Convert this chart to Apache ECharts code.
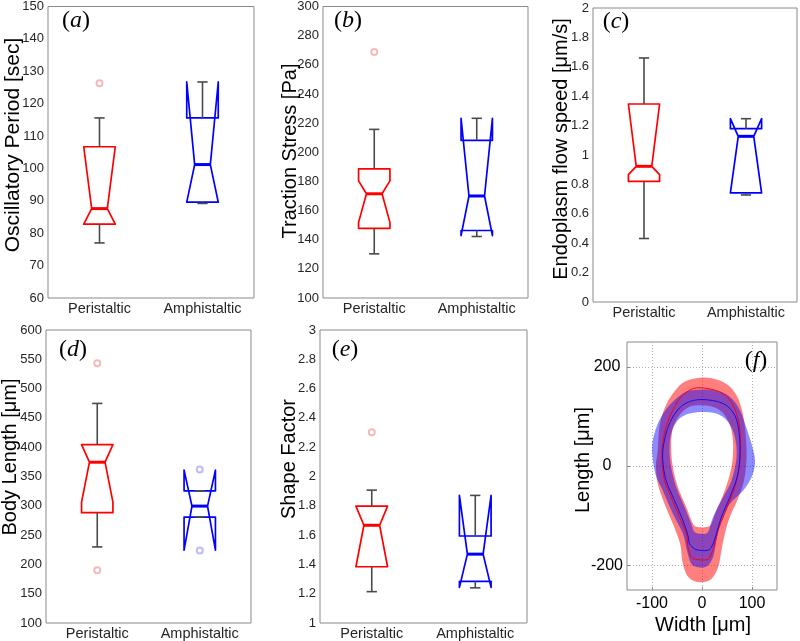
<!DOCTYPE html>
<html><head><meta charset="utf-8">
<script src="https://cdn.jsdelivr.net/npm/echarts@6/dist/echarts.min.js"></script>
<style>html,body{margin:0;padding:0;background:#fff}#chart{width:800px;height:641px}</style>
</head><body><div id="chart"></div>
<script>
// ---------------- DATA ----------------
const categories = ['Peristaltic', 'Amphistaltic'];
// box stats per group: [q1, median, q3, notchLow, notchHigh, whiskerLow, whiskerHigh]
const periodStats = [
  [82.8, 87.6, 106.7, 82.8, 106.7, 77.0, 115.6],
  [89.6, 101.2, 115.6, 89.6, 126.7, 89.2, 126.7]
];
const periodOutliers = [[0, 126.3]];
const stressStats = [
  [147.8, 171.5, 188.6, 151.9, 180.4, 130.3, 215.7],
  [146.3, 170.0, 208.2, 142.8, 223.3, 142.2, 223.3]
];
const stressOutliers = [[0, 268.8]];
const flowStats = [
  [0.821, 0.923, 1.347, 0.866, 1.347, 0.432, 1.66],
  [0.742, 1.127, 1.179, 0.742, 1.247, 0.728, 1.247]
];
const flowOutliers = [];
const lengthStats = [
  [288.2, 374.4, 404.4, 306.3, 404.4, 229.8, 474.7],
  [280.8, 299.5, 325.6, 224.2, 360.8, 280.8, 325.6]
];
const lengthOutliers = [[0, 543.3], [0, 190.1], [1, 361.9], [1, 223.6]];
const shapeStats = [
  [1.384, 1.667, 1.798, 1.384, 1.798, 1.214, 1.907],
  [1.284, 1.470, 1.594, 1.243, 1.871, 1.240, 1.871]
];
const shapeOutliers = [[0, 2.302]];

// panel (f) cell outlines [width, length] in um
const redMean = [[0,157.6],[35.6,149.6],[55.7,132.7],[69,105.7],[75.8,72],[77,31.7],[74.4,-2],[67.7,-35.8],[55.7,-69.4],[42.3,-103],[32.2,-130],[25.5,-157],[18.8,-177],[12,-188.5],[-11.4,-188.5],[-22,-182],[-28,-163.6],[-31.5,-136.8],[-45,-103],[-61.7,-62.6],[-75,-29],[-79.8,11.5],[-78.5,45],[-71.8,78.9],[-58.3,112.5],[-41.6,139.4],[-21.5,154.3]];
const blueMean = [[0,134],[42.3,126],[65.7,102],[74.4,65.3],[75.8,18],[70.4,-22],[55.7,-62.6],[38.9,-103],[28.8,-136.7],[22,-157],[14,-169],[-1.3,-170.4],[-14.8,-167],[-24.8,-157],[-28.2,-140],[-38.2,-109.8],[-55,-69.4],[-71.8,-29],[-78.5,11.5],[-76.5,45],[-66.4,82],[-51.6,109],[-31.5,127]];
const redBandOuter = [[0,178.5],[28.9,174.5],[52.3,163],[69,142.8],[79,115.8],[85.8,78.8],[89.2,31.7],[87.9,-2],[82.5,-35.8],[70.4,-69.4],[55.7,-103],[45.6,-136.7],[38.9,-170.4],[32.2,-204],[18.8,-227.6],[0,-234.3],[-18.1,-231],[-31.5,-217.5],[-39.6,-190.6],[-43.7,-157],[-58.3,-116.5],[-75,-76],[-88.5,-35.8],[-92,0],[-88.5,31.7],[-85.2,78.8],[-75,115.8],[-58.3,146],[-34.9,169.7]];
const redBandInner = [[0,122.6],[25.5,117.9],[45.6,102.4],[59,72],[62.4,31.7],[57.7,-8.8],[45.6,-49.2],[28.8,-89.6],[18.8,-116.5],[8.8,-123.2],[-8,-123.2],[-18.1,-116.5],[-31.5,-82.8],[-48.3,-42.4],[-58.3,-2],[-61.7,38.4],[-58.3,75.5],[-45,102.4],[-24.8,119.3]];
const blueBandOuter = [[0,154.2],[28.9,151.5],[55.7,139.4],[75.8,112.5],[90.5,72],[102.6,31.7],[106,4.8],[99.3,-22.2],[82.5,-49.2],[55.7,-76.1],[38.9,-109.8],[30.2,-143.4],[22.1,-183.8],[8.8,-202.7],[-8,-204],[-21.5,-197.3],[-30.2,-170.4],[-38.2,-136.7],[-58.3,-96.3],[-78.5,-49.2],[-93.2,-15.5],[-99.9,31.7],[-95.2,65.3],[-81.8,99],[-58.3,129.3],[-31.5,149.5]];
const blueBandInner = [[0,109.1],[28.9,105.7],[52.3,88.9],[65.7,58.6],[69.1,18.2],[59,-29],[42.3,-62.6],[22.1,-103],[12.1,-133.3],[-1.3,-136.7],[-14.8,-133.3],[-21.5,-116.5],[-34.9,-82.8],[-51.6,-42.4],[-61.7,-2],[-65,38.4],[-59.7,72],[-45,95.6],[-24.8,105.7]];
const shapeXTicks = [-100, 0, 100];
const shapeYTicks = [-200, 0, 200];

// ---------------- CHART ----------------
const FONT = "'Liberation Sans', Arial, sans-serif";
const SERIF = "'Liberation Serif', 'DejaVu Serif', serif";
const FRAME = '#8a8a8a';
const boxColors = ['#ff0000', '#0000ff'];
const outlierColors = ['#f4a8a8', '#aaaaf4'];

const panels = [
  {stats: periodStats, outliers: periodOutliers, min: 60, max: 150, interval: 10},
  {stats: stressStats, outliers: stressOutliers, min: 100, max: 300, interval: 20},
  {stats: flowStats, outliers: flowOutliers, min: 0, max: 2, interval: 0.2},
  {stats: lengthStats, outliers: lengthOutliers, min: 100, max: 600, interval: 50},
  {stats: shapeStats, outliers: shapeOutliers, min: 1, max: 3, interval: 0.2}
];
const grids = [
  {left: 48, top: 5, width: 206, height: 293},
  {left: 323, top: 5, width: 205, height: 293},
  {left: 593, top: 8, width: 204, height: 294},
  {left: 46, top: 330, width: 205, height: 294},
  {left: 320, top: 330, width: 207, height: 294},
  {left: 627, top: 342, width: 150, height: 248}
].map(g => Object.assign({show: true, borderColor: FRAME, borderWidth: 1, backgroundColor: 'transparent'}, g));

function renderBox(params, api) {
  const k = api.value(0);
  const q1 = api.value(1), med = api.value(2), q3 = api.value(3),
        nLo = api.value(4), nHi = api.value(5), wLo = api.value(6), wHi = api.value(7);
  const band = api.size([1, 0])[0];
  const cx = api.coord([k, med])[0];
  const Y = v => api.coord([k, v])[1];
  const hw = band * 0.153, nd = band * 0.077, cw = band * 0.05;
  const L = cx - hw, R = cx + hw;
  const color = boxColors[k];
  const wc = '#4a4a4a';
  const ch = [];
  ch.push({type: 'polygon', shape: {points: [[L, Y(q1)], [L, Y(nLo)], [L + nd, Y(med)], [L, Y(nHi)], [L, Y(q3)],
    [R, Y(q3)], [R, Y(nHi)], [R - nd, Y(med)], [R, Y(nLo)], [R, Y(q1)]]},
    style: {fill: 'none', stroke: color, lineWidth: 1.7, lineJoin: 'round'}});
  ch.push({type: 'line', shape: {x1: L + nd, y1: Y(med), x2: R - nd, y2: Y(med)}, style: {stroke: color, lineWidth: 3}});
  if (wHi > q3) ch.push({type: 'line', shape: {x1: cx, y1: Y(q3), x2: cx, y2: Y(wHi)}, style: {stroke: wc, lineWidth: 1.6}});
  ch.push({type: 'line', shape: {x1: cx - cw, y1: Y(wHi), x2: cx + cw, y2: Y(wHi)}, style: {stroke: wc, lineWidth: 1.6}});
  if (wLo < q1) ch.push({type: 'line', shape: {x1: cx, y1: Y(q1), x2: cx, y2: Y(wLo)}, style: {stroke: wc, lineWidth: 1.6}});
  ch.push({type: 'line', shape: {x1: cx - cw, y1: Y(wLo), x2: cx + cw, y2: Y(wLo)}, style: {stroke: wc, lineWidth: 1.6}});
  return {type: 'group', children: ch};
}

const xAxes = [], yAxes = [], series = [];
const tickStyle = {inside: true, length: 4, lineStyle: {color: FRAME}};
panels.forEach((p, i) => {
  xAxes.push({type: 'category', gridIndex: i, data: categories, position: 'bottom',
    axisLine: {show: false, onZero: false}, axisTick: Object.assign({alignWithLabel: true}, tickStyle),
    axisLabel: {margin: 3, fontSize: 14.5, color: '#262626', fontFamily: FONT}, splitLine: {show: false}});
  xAxes.push({type: 'category', gridIndex: i, data: categories, position: 'top',
    axisLine: {show: false, onZero: false}, axisTick: Object.assign({alignWithLabel: true}, tickStyle),
    axisLabel: {show: false}, splitLine: {show: false}});
  yAxes.push({type: 'value', gridIndex: i, min: p.min, max: p.max, interval: p.interval, position: 'left',
    axisLine: {show: false, onZero: false}, axisTick: tickStyle,
    axisLabel: {margin: 4, fontSize: 13, color: '#262626', fontFamily: FONT}, splitLine: {show: false}});
  yAxes.push({type: 'value', gridIndex: i, min: p.min, max: p.max, interval: p.interval, position: 'right',
    axisLine: {show: false, onZero: false}, axisTick: tickStyle, axisLabel: {show: false}, splitLine: {show: false}});
  series.push({type: 'custom', xAxisIndex: 2 * i, yAxisIndex: 2 * i, renderItem: renderBox,
    data: p.stats.map((s, k) => [k].concat(s)), z: 3});
  series.push({type: 'scatter', xAxisIndex: 2 * i, yAxisIndex: 2 * i, data: p.outliers,
    symbol: 'emptyCircle', symbolSize: 6, z: 4,
    itemStyle: {color: prm => outlierColors[prm.data[0]], borderWidth: 1}});
});

// panel f axes
const dotted = {show: true, lineStyle: {color: '#b0b0b0', type: [1, 2], width: 1}};
xAxes.push({type: 'value', gridIndex: 5, min: -150, max: 150, position: 'bottom',
  axisLine: {show: false, onZero: false},
  axisTick: {show: true, inside: true, length: 3, customValues: shapeXTicks, lineStyle: {color: FRAME}},
  axisLabel: {customValues: shapeXTicks, fontSize: 16, color: '#000', fontFamily: FONT, margin: 6},
  splitLine: Object.assign({customValues: shapeXTicks}, dotted)});
yAxes.push({type: 'value', gridIndex: 5, min: -250, max: 250, position: 'left',
  axisLine: {show: false, onZero: false},
  axisTick: {show: true, inside: true, length: 3, customValues: shapeYTicks, lineStyle: {color: FRAME}},
  axisLabel: {customValues: shapeYTicks, fontSize: 16, color: '#000', fontFamily: FONT, margin: 20, align: 'center'},
  splitLine: Object.assign({customValues: shapeYTicks}, dotted)});

function smoothClosed(pts) {
  const n = pts.length;
  const f = v => v.toFixed(2);
  let d = 'M' + f(pts[0][0]) + ' ' + f(pts[0][1]);
  for (let i = 0; i < n; i++) {
    const p0 = pts[(i - 1 + n) % n], p1 = pts[i], p2 = pts[(i + 1) % n], p3 = pts[(i + 2) % n];
    const c1x = p1[0] + (p2[0] - p0[0]) / 6, c1y = p1[1] + (p2[1] - p0[1]) / 6;
    const c2x = p2[0] - (p3[0] - p1[0]) / 6, c2y = p2[1] - (p3[1] - p1[1]) / 6;
    d += 'C' + f(c1x) + ' ' + f(c1y) + ' ' + f(c2x) + ' ' + f(c2y) + ' ' + f(p2[0]) + ' ' + f(p2[1]);
  }
  return d + 'Z';
}
function renderShapes(params, api) {
  if (params.dataIndex !== 0) return null;
  const px = arr => arr.map(p => api.coord(p));
  const band = (outer, inner) => smoothClosed(px(outer)) + ' ' + smoothClosed(px(inner).reverse());
  return {type: 'group', children: [
    {type: 'path', shape: {pathData: band(redBandOuter, redBandInner)}, style: {fill: 'rgba(255,0,0,0.5)', stroke: null}},
    {type: 'path', shape: {pathData: band(blueBandOuter, blueBandInner)}, style: {fill: 'rgba(0,0,255,0.45)', stroke: null}},
    {type: 'path', shape: {pathData: smoothClosed(px(redMean))}, style: {fill: null, stroke: '#ff0000', lineWidth: 1}},
    {type: 'path', shape: {pathData: smoothClosed(px(blueMean))}, style: {fill: null, stroke: '#1010ee', lineWidth: 1}}
  ]};
}
series.push({type: 'custom', xAxisIndex: 10, yAxisIndex: 10, renderItem: renderShapes, data: [[0, 0]], z: 3});

function tag(letter, x, y) {
  return {type: 'text', x: x, y: y, z: 10, style: {
    text: '{p|(}{i|' + letter + '}{p|)}', textAlign: 'center', textVerticalAlign: 'middle',
    rich: {p: {fontFamily: SERIF, fontSize: 24, fill: '#000'}, i: {fontFamily: SERIF, fontSize: 24, fontStyle: 'italic', fill: '#000'}}
  }};
}
function yName(text, x, y, size) {
  return {type: 'text', x: x, y: y, rotation: Math.PI / 2, z: 10, style: {
    text: text, fontFamily: FONT, fontSize: size, fill: '#000', textAlign: 'center', textVerticalAlign: 'middle'}};
}
const graphics = [
  tag('a', 76, 21), tag('b', 348, 21), tag('c', 616, 22), tag('d', 73, 350), tag('e', 345, 350), tag('f', 756, 361),
  yName('Oscillatory Period [sec]', 13, 145, 21),
  yName('Traction Stress [Pa]', 290, 151, 20),
  yName('Endoplasm flow speed [\u03bcm/s]', 561, 149, 20),
  yName('Body Length [\u03bcm]', 10, 457, 20),
  yName('Shape Factor', 289, 459, 20),
  yName('Length [\u03bcm]', 583, 460, 20),
  {type: 'text', x: 703, y: 625, z: 10, style: {text: 'Width [\u03bcm]', fontFamily: FONT, fontSize: 20, fill: '#000',
    textAlign: 'center', textVerticalAlign: 'middle'}}
];

const chart = echarts.init(document.getElementById('chart'), null, {renderer: 'canvas'});
chart.setOption({
  animation: false,
  backgroundColor: '#fff',
  grid: grids,
  xAxis: xAxes,
  yAxis: yAxes,
  series: series,
  graphic: graphics
});
</script>
</body></html>
